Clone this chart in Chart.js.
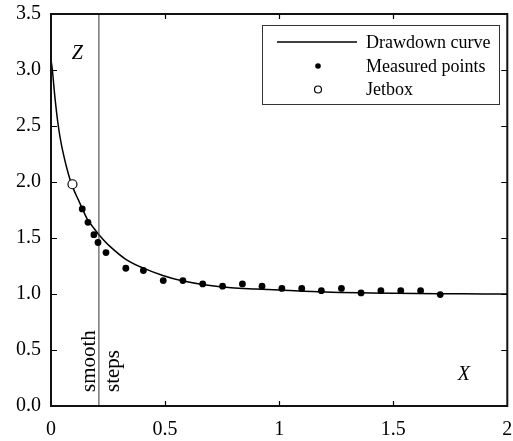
<!DOCTYPE html>
<html><head><meta charset="utf-8">
<script src="https://cdn.jsdelivr.net/npm/chart.js@4.4.0/dist/chart.umd.min.js"></script>
<style>html,body{margin:0;padding:0;background:#fff;}</style>
</head><body>
<canvas id="c" width="513" height="441"></canvas>
<script>
// Drawdown curve
const curveX = [0, 0.006, 0.018, 0.032, 0.045, 0.06, 0.075, 0.087, 0.10, 0.12, 0.14, 0.16, 0.185, 0.21, 0.256, 0.328, 0.40, 0.49, 0.57, 0.68, 0.79, 0.9, 1.0, 1.2, 1.4, 1.6, 1.8, 2.0];
const curveZ = [3.09, 3.0, 2.74, 2.5, 2.34, 2.2, 2.08, 2.0, 1.93, 1.84, 1.75, 1.665, 1.595, 1.53, 1.43, 1.31, 1.235, 1.165, 1.12, 1.08, 1.056, 1.045, 1.036, 1.018, 1.01, 1.005, 1.002, 1.0];
// Measured points
const measuredX = [0.137, 0.162, 0.188, 0.206, 0.241, 0.328, 0.405, 0.492, 0.578, 0.665, 0.752, 0.839, 0.925, 1.012, 1.099, 1.185, 1.273, 1.359, 1.446, 1.533, 1.620, 1.706];
const measuredZ = [1.76, 1.64, 1.53, 1.46, 1.37, 1.23, 1.21, 1.12, 1.12, 1.09, 1.07, 1.09, 1.07, 1.05, 1.05, 1.03, 1.05, 1.01, 1.03, 1.03, 1.03, 0.995];
// Jetbox
const jetboxX = [0.094];
const jetboxZ = [1.98];
// Boundary between "smooth" and "steps"
const boundaryX = [0.21, 0.21];
const boundaryZ = [0, 3.5];
// Ticks
const xTicks = [0, 0.5, 1, 1.5, 2];
const xTickLabels = ["0", "0.5", "1", "1.5", "2"];
const yTicks = [0, 0.5, 1, 1.5, 2, 2.5, 3, 3.5];
const yTickLabels = ["0.0", "0.5", "1.0", "1.5", "2.0", "2.5", "3.0", "3.5"];
const legendLabels = ["Drawdown curve", "Measured points", "Jetbox"];

const SERIF = '"Liberation Serif", "Times New Roman", serif';
const zip = (xs, ys) => xs.map((x, i) => ({x: x, y: ys[i]}));

const framePlugin = {
  id: 'frame',
  afterDraw(chart) {
    const ctx = chart.ctx;
    const a = chart.chartArea;
    const xs = chart.scales.x, ys = chart.scales.y;
    ctx.save();
    // inward ticks
    ctx.strokeStyle = '#000';
    ctx.lineWidth = 1.2;
    ctx.beginPath();
    xTicks.forEach(v => {
      if (v <= xs.min || v >= xs.max) return;
      const px = Math.round(xs.getPixelForValue(v)) + 0.5;
      ctx.moveTo(px, a.bottom); ctx.lineTo(px, a.bottom - 5);
      ctx.moveTo(px, a.top); ctx.lineTo(px, a.top + 5);
    });
    yTicks.forEach(v => {
      if (v <= ys.min || v >= ys.max) return;
      const py = Math.round(ys.getPixelForValue(v)) + 0.5;
      ctx.moveTo(a.left, py); ctx.lineTo(a.left + 6, py);
      ctx.moveTo(a.right, py); ctx.lineTo(a.right - 6, py);
    });
    ctx.stroke();
    // frame
    ctx.lineWidth = 2;
    ctx.strokeStyle = '#111';
    ctx.strokeRect(a.left, a.top, a.right - a.left, a.bottom - a.top);

    // axis letters
    ctx.fillStyle = '#000';
    ctx.font = 'italic 20px ' + SERIF;
    ctx.textAlign = 'center';
    ctx.textBaseline = 'alphabetic';
    ctx.fillText('Z', xs.getPixelForValue(0.115), ys.getPixelForValue(3.1));
    ctx.fillText('X', xs.getPixelForValue(1.81), ys.getPixelForValue(0.23));

    // smooth / steps
    ctx.font = '21px ' + SERIF;
    const bx = xs.getPixelForValue(boundaryX[0]);
    const by = ys.getPixelForValue(0.125);
    ctx.save();
    ctx.translate(bx - 9, by);
    ctx.rotate(-Math.PI / 2);
    ctx.textAlign = 'left';
    ctx.textBaseline = 'middle';
    ctx.fillText('smooth', 0, 0);
    ctx.restore();
    ctx.save();
    ctx.translate(bx + 15, by);
    ctx.rotate(-Math.PI / 2);
    ctx.textAlign = 'left';
    ctx.textBaseline = 'middle';
    ctx.fillText('steps', 0, 0);
    ctx.restore();

    // legend
    const lx = 262, ly = 25, lw = 237, lh = 79;
    ctx.fillStyle = '#fff';
    ctx.fillRect(lx, ly, lw, lh);
    ctx.lineWidth = 1;
    ctx.strokeStyle = '#333';
    ctx.strokeRect(lx + 0.5, ly + 0.5, lw, lh);
    const rows = [42, 66, 89.5];
    const ds = chart.data.datasets;
    ctx.strokeStyle = ds[0].borderColor;
    ctx.lineWidth = 1.5;
    ctx.beginPath(); ctx.moveTo(277, rows[0]); ctx.lineTo(357, rows[0]); ctx.stroke();
    ctx.fillStyle = ds[1].backgroundColor;
    ctx.beginPath(); ctx.arc(318, rows[1], 2.8, 0, Math.PI * 2); ctx.fill();
    ctx.fillStyle = '#fff';
    ctx.strokeStyle = ds[2].borderColor;
    ctx.lineWidth = 1.2;
    ctx.beginPath(); ctx.arc(318, rows[2], 3.5, 0, Math.PI * 2); ctx.fill(); ctx.stroke();
    ctx.fillStyle = '#000';
    ctx.font = '18px ' + SERIF;
    ctx.textAlign = 'left';
    ctx.textBaseline = 'middle';
    legendLabels.forEach((t, i) => ctx.fillText(t, 366, rows[i] + 1));
    ctx.restore();
  }
};

new Chart(document.getElementById('c'), {
  type: 'scatter',
  data: {
    datasets: [
      {
        label: legendLabels[0],
        data: zip(curveX, curveZ),
        showLine: true,
        borderColor: '#000',
        borderWidth: 1.5,
        pointRadius: 0,
        tension: 0.35,
        order: 3
      },
      {
        label: legendLabels[1],
        data: zip(measuredX, measuredZ),
        backgroundColor: '#000',
        borderColor: '#000',
        borderWidth: 0,
        pointRadius: 3.4,
        order: 1
      },
      {
        label: legendLabels[2],
        data: zip(jetboxX, jetboxZ),
        backgroundColor: '#fff',
        borderColor: '#000',
        borderWidth: 1.2,
        pointRadius: 4.5,
        order: 0
      },
      {
        label: 'boundary',
        data: zip(boundaryX, boundaryZ),
        showLine: true,
        borderColor: '#333',
        borderWidth: 1,
        pointRadius: 0,
        order: 2
      }
    ]
  },
  options: {
    responsive: false,
    animation: false,
    devicePixelRatio: 1,
    layout: {padding: {top: 14, right: 2, left: 0, bottom: 0}},
    plugins: {legend: {display: false}, tooltip: {enabled: false}},
    scales: {
      x: {
        type: 'linear', min: 0, max: 2,
        afterBuildTicks: s => { s.ticks = xTicks.map(v => ({value: v})); },
        ticks: {
          color: '#000', padding: 12, maxRotation: 0, autoSkip: false,
          font: {family: SERIF, size: 20},
          callback: (v) => xTickLabels[xTicks.indexOf(v)]
        },
        grid: {display: false, drawTicks: false},
        border: {display: false},
        afterFit: s => { s.height = 35; s.paddingLeft = 0; s.paddingRight = 0; }
      },
      y: {
        type: 'linear', min: 0, max: 3.5,
        afterBuildTicks: s => { s.ticks = yTicks.map(v => ({value: v})); },
        ticks: {
          color: '#000', padding: 10, autoSkip: false,
          font: {family: SERIF, size: 20},
          callback: (v) => yTickLabels[yTicks.indexOf(v)]
        },
        grid: {display: false, drawTicks: false},
        border: {display: false},
        afterFit: s => { s.width = 51; s.paddingTop = 0; s.paddingBottom = 0; }
      }
    }
  },
  plugins: [framePlugin]
});
</script>
</body></html>
